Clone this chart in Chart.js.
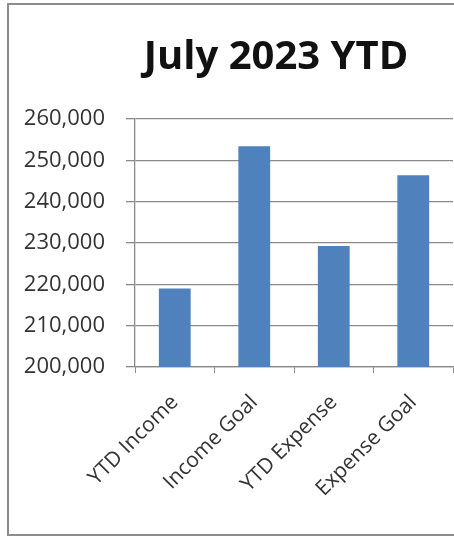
<!doctype html>
<html>
<head>
    <meta charset="utf-8" />
    <title>July 2023 YTD</title>
    <script src="https://cdn.jsdelivr.net/npm/chart.js@4.4.0/dist/chart.umd.min.js"></script>
    <style>
        html, body { margin: 0; padding: 0; background: #fff; overflow: hidden; width: 454px; height: 536px; }
        #frame { position: absolute; left: 7px; top: 3px; width: 537px; height: 529px; border: 2px solid #8c8c8c; }
        #ytdChart { position: absolute; left: 0; top: 0; }
    </style>
</head>
<body>
    <div id="frame"></div>
    <canvas id="ytdChart" width="552" height="536"></canvas>

<script>
    // values
    var categories = ["YTD Income", "Income Goal", "YTD Expense", "Expense Goal"];
    var amounts = [219000, 253400, 229300, 246400];
    var yTicks = [200000, 210000, 220000, 230000, 240000, 250000, 260000];

    var gridColor = "#8a8a8a";
    var textColor = "#333333";

    var ctx = document.getElementById('ytdChart').getContext('2d');
    var myChart = new Chart(ctx, {
        type: 'bar',
        data: {
            labels: categories,
            datasets: [{
                label: "July 2023 YTD",
                data: amounts,
                backgroundColor: "#4f81bd",
                barPercentage: 0.4,
                categoryPercentage: 1.0
            }]
        },
        options: {
            responsive: false,
            animation: false,
            devicePixelRatio: 1,
            layout: { padding: 0 },
            plugins: {
                legend: { display: false },
                tooltip: { enabled: false },
                title: {
                    display: true,
                    text: "July 2023 YTD",
                    color: "#111",
                    font: { family: "Open Sans", size: 40, weight: "bold", lineHeight: 1.2 },
                    padding: { top: 34, bottom: 37 }
                }
            },
            scales: {
                x: {
                    grid: { display: true, drawOnChartArea: false, drawTicks: true, tickLength: 6, color: gridColor },
                    border: { display: true, color: gridColor, width: 1.3 },
                    ticks: {
                        color: textColor,
                        font: { family: "Open Sans", size: 21 },
                        minRotation: 45,
                        maxRotation: 45,
                        padding: 17
                    },
                    afterFit: function (scale) { scale.height = 169; }
                },
                y: {
                    min: yTicks[0],
                    max: yTicks[yTicks.length - 1],
                    grid: { color: gridColor, lineWidth: 1.3, tickLength: 9 },
                    border: { display: true, color: gridColor, width: 1.3 },
                    afterBuildTicks: function (scale) {
                        scale.ticks = yTicks.map(function (v) { return { value: v }; });
                    },
                    ticks: {
                        color: textColor,
                        font: { family: "Open Sans", size: 22 },
                        padding: 21,
                        callback: function (value) { return value.toLocaleString('en-US'); }
                    },
                    afterFit: function (scale) { scale.width = 135; }
                },
                // empty right-hand space so the title centres over the whole frame
                pad: {
                    type: 'linear',
                    position: 'right',
                    display: true,
                    grid: { display: false },
                    border: { display: false },
                    ticks: { display: false },
                    afterFit: function (scale) { scale.width = 99; }
                }
            }
        }
    });
</script>
</body>
</html>
